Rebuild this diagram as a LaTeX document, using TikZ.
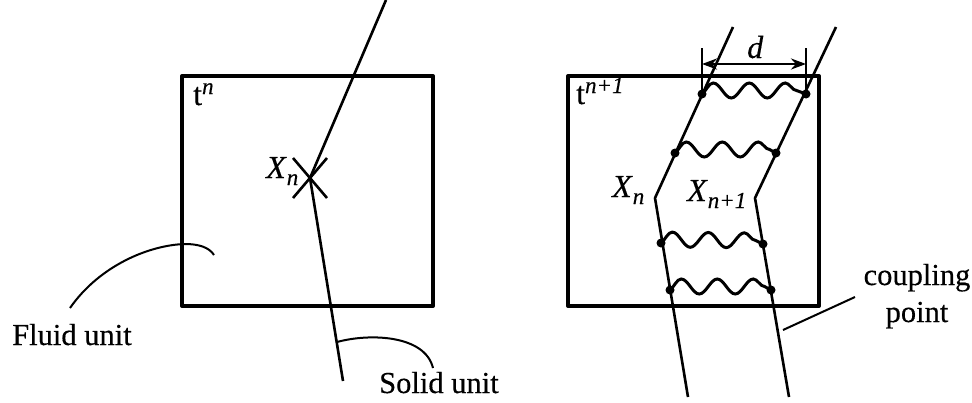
\documentclass[tikz,border=0pt]{standalone}
\usepackage{fontspec}
\setmainfont{Liberation Serif}[FakeBold=0.35]
\newfontfamily\plainbold{Liberation Serif}[FakeBold=0.35]
\usetikzlibrary{arrows.meta,decorations.pathmorphing}
\newcommand{\lbl}[1]{\fontsize{#1}{#1}\selectfont}
\newcommand{\Sub}[1]{\raisebox{-7pt}{\lbl{23}\itshape #1}}
\newcommand{\Sup}[1]{\raisebox{11pt}{\lbl{23}\itshape #1}}
\tikzset{
  cell/.style={draw=black,line width=4pt,line join=round,fill=none,outer sep=0pt,inner sep=0pt,minimum width=251pt,minimum height=230pt,anchor=north west},
  solidline/.style={draw=black,line width=2.6pt},
  leader/.style={draw=black,line width=2pt},
  tick/.style={draw=black,line width=2.6pt},
  spring/.style={draw=black,line width=3pt,decorate,decoration={snake,segment length=36pt,amplitude=7.5pt,raise=3.5pt,pre length=0pt,post length=0pt}},
  cp/.style={circle,fill=black,inner sep=0pt,minimum size=9pt},
  txt/.style={inner sep=0pt,anchor=base west,text=black,font=\lbl{30.5}},
  mth/.style={txt,font=\lbl{32}},
  dim/.style={draw=black,line width=2.6pt,{Stealth[length=15pt,width=11pt]}-{Stealth[length=15pt,width=11pt]}}
}
\begin{document}
\begin{tikzpicture}[x=1pt,y=-1pt]
\useasboundingbox (0,0) rectangle (972,402);
% cells
\node[cell] (cellA) at (182,76) {};
\node[cell] (cellB) at (568,76) {};
% left solid line
\coordinate (aTop) at (386,0);
\coordinate (aX) at (310,178);
\coordinate (aBot) at (343,381);
\draw[solidline,line join=round] (aTop) -- (aX) -- (aBot);
\coordinate (c1) at (293,158); \coordinate (c2) at (327,198);
\coordinate (c3) at (293,198); \coordinate (c4) at (327,158);
\draw[solidline] (c1) -- (c2);
\draw[solidline] (c3) -- (c4);
% right solid lines
\coordinate (bTopL) at (733,27);
\coordinate (bKinkL) at (655,198);
\coordinate (bBotL) at (688,397);
\coordinate (bTopR) at (836,27);
\coordinate (bKinkR) at (755,198);
\coordinate (bBotR) at (789,397);
\draw[solidline,line join=round] (bTopL) -- (bKinkL) -- (bBotL);
\draw[solidline,line join=round] (bTopR) -- (bKinkR) -- (bBotR);
% coupling points
\node[cp] (p1l) at (702,94) {}; \node[cp] (p1r) at (806,94) {};
\node[cp] (p2l) at (675,153) {}; \node[cp] (p2r) at (776,153) {};
\node[cp] (p3l) at (661,243) {}; \node[cp] (p3r) at (763,244) {};
\node[cp] (p4l) at (670,290) {}; \node[cp] (p4r) at (771,290) {};
\draw[spring] (p1l.center) -- (p1r.center);
\draw[spring] (p2l.center) -- (p2r.center);
\draw[spring] (p3l.center) -- (p3r.center);
\draw[spring] (p4l.center) -- (p4r.center);
% dimension
\coordinate (d1t) at (702,48); \coordinate (d2t) at (806,48);
\coordinate (d1m) at (702,64); \coordinate (d2m) at (806,64);
\draw[tick] (d1t) -- (p1l.center);
\draw[tick] (d2t) -- (p1r.center);
\draw[dim] (d1m) -- (d2m);
% texts
\node[mth] (tA) at (193,105) {t\Sup{n}};
\node[mth] (tB) at (576,104) {t\Sup{n+1}};
\node[mth] (xA) at (266,178) {\textit{X}\Sub{n}};
\node[mth] (xB) at (612,197) {\textit{X}\Sub{n}};
\node[mth] (xC) at (687,201) {\textit{X}\Sub{n+1}};
\node[mth] (dl) at (747,58) {\textit{d}};
\node[txt] (fluid) at (12,345) {Fluid unit};
\node[txt] (solid) at (379,393) {Solid unit};
\node[txt,anchor=base] (cpl) at (917,285) {coupling};
\node[txt,anchor=base] (cpl2) at (917,322) {point};
% leaders
\coordinate (f0) at (70,308); \coordinate (f1) at (185,244); \coordinate (f2) at (214,255);
\draw[leader] (f0) .. controls (100,265) and (150,245) .. (f1) .. controls (198,244) and (209,247) .. (f2);
\coordinate (s0) at (337,342); \coordinate (s1) at (433,368);
\draw[leader] (s0) .. controls (370,333) and (425,335) .. (s1);
\coordinate (l0) at (783,330); \coordinate (l1) at (855,297);
\draw[leader] (l0) -- (l1);
\end{tikzpicture}
\end{document}
